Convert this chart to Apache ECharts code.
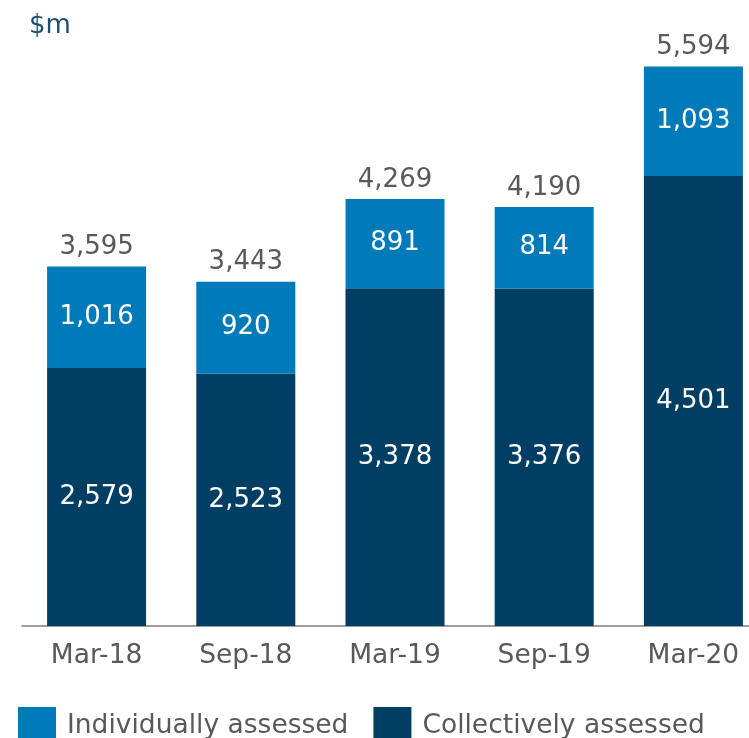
<!DOCTYPE html>
<html>
<head>
<meta charset="utf-8">
<script src="https://cdn.jsdelivr.net/npm/echarts@6/dist/echarts.min.js"></script>
<style>
  html, body { margin: 0; padding: 0; background: #fff; overflow: hidden; }
  /* 图表比窗口略宽，最右一列在右边被裁掉一点，与原图一致 */
  #chart { width: 768px; height: 738px; }
</style>
</head>
<body>
<div id="chart"></div>
<script>
// 数据
const categories = ['Mar-18', 'Sep-18', 'Mar-19', 'Sep-19', 'Mar-20']
const collectively = [2579, 2523, 3378, 3376, 4501]
const individually = [1016, 920, 891, 814, 1093]
const totals = [3595, 3443, 4269, 4190, 5594]

const FONT = 'DejaVu Sans'
const fmt = v => v.toLocaleString('en-US')

const chart = echarts.init(document.getElementById('chart'))

chart.setOption({
  animation: false,
  textStyle: { fontFamily: FONT },
  graphic: [{
    type: 'text',
    left: 29,
    top: 13,
    style: { text: '$m', fontSize: 26, fontFamily: FONT, fill: '#1b4f72' }
  }],
  legend: {
    data: ['Individually assessed', 'Collectively assessed'],
    left: 18,
    top: 707,
    padding: 0,
    icon: 'rect',
    itemWidth: 38,
    itemHeight: 38,
    itemGap: 25,
    textStyle: { fontSize: 26.5, color: '#595959', fontFamily: FONT, padding: [0, 0, 0, 6] }
  },
  grid: {
    left: 22,
    top: 26,
    right: 0,
    height: 600,
    containLabel: false
  },
  xAxis: {
    type: 'category',
    data: categories,
    axisTick: { show: false },
    axisLine: { lineStyle: { color: '#7f7f7f', width: 1.5 } },
    axisLabel: { fontSize: 26.5, color: '#595959', margin: 17, fontFamily: FONT }
  },
  yAxis: {
    type: 'value',
    min: 0,
    max: 6000,
    show: false
  },
  series: [
    {
      name: 'Collectively assessed',
      type: 'bar',
      stack: 'total',
      barWidth: 99,
      data: collectively,
      itemStyle: { color: '#003f63' },
      label: {
        show: true,
        position: 'inside',
        fontSize: 26,
        color: '#fff',
        fontFamily: FONT,
        formatter: p => fmt(p.value)
      }
    },
    {
      name: 'Individually assessed',
      type: 'bar',
      stack: 'total',
      barWidth: 99,
      data: individually,
      itemStyle: { color: '#007ab8' },
      label: {
        show: true,
        position: 'inside',
        fontSize: 26,
        color: '#fff',
        fontFamily: FONT,
        formatter: p => fmt(p.value)
      }
    },
    {
      name: 'total',
      type: 'bar',
      stack: 'total',
      barWidth: 99,
      data: totals.map(() => 0),
      itemStyle: { color: 'transparent' },
      label: {
        show: true,
        position: 'top',
        distance: 6,
        fontSize: 26,
        color: '#595959',
        fontFamily: FONT,
        formatter: p => fmt(totals[p.dataIndex])
      }
    }
  ]
})
</script>
</body>
</html>
